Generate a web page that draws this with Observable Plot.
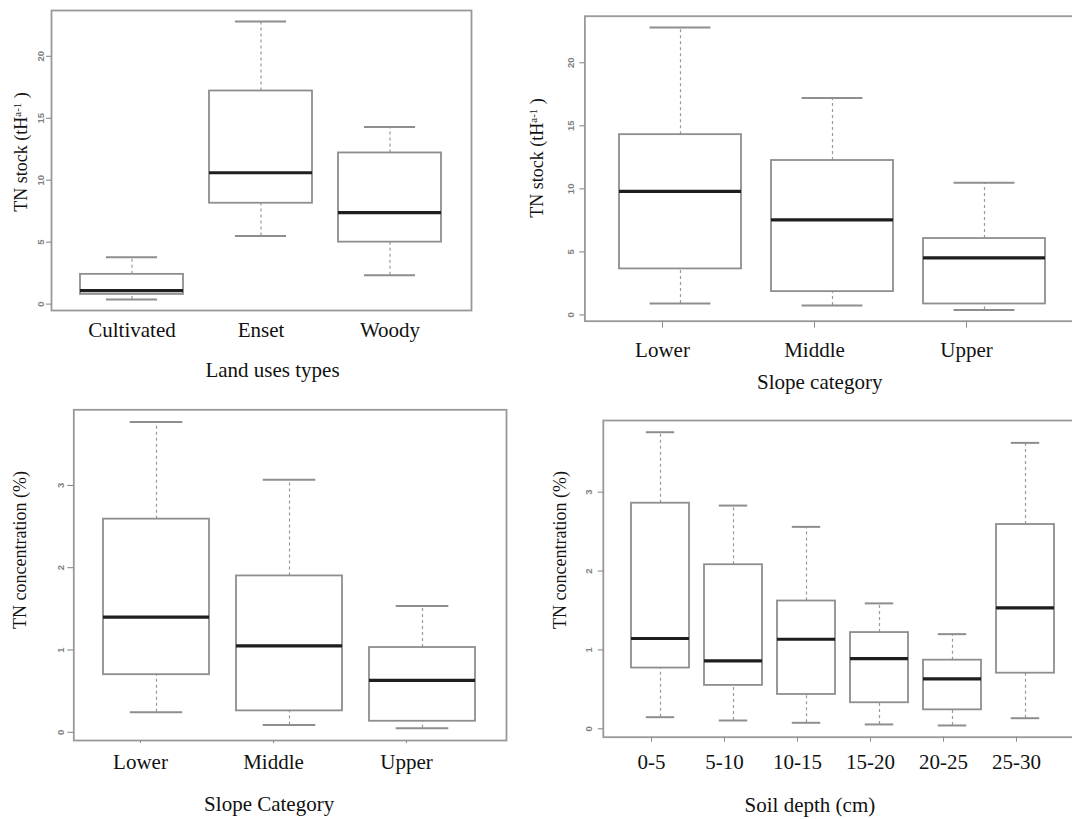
<!DOCTYPE html>
<html><head><meta charset="utf-8">
<script src="https://cdn.jsdelivr.net/npm/d3@7"></script>
<script src="https://cdn.jsdelivr.net/npm/@observablehq/plot@0.6"></script>
<style>
body{margin:0;background:#fff;}
#wrap{position:relative;width:1072px;height:819px;overflow:hidden;background:#fff;}
.panel{position:absolute;}
.ytitle{position:absolute;font-family:"Liberation Serif","Times New Roman",serif;font-size:18px;color:#111;white-space:nowrap;line-height:1;transform:translate(-50%,-50%) rotate(-90deg);}
.ytitle sup{font-size:0.6em;vertical-align:0.6em;line-height:0;}
</style></head><body><div id="wrap"></div>
<script>
// Panel A: TN stock by land use
const landUses = ["Cultivated", "Enset", "Woody"];
const stockLandLo  = [0.38, 5.5, 2.32];
const stockLandQ1  = [0.78, 8.14, 5.0];
const stockLandMed = [1.08, 10.6, 7.38];
const stockLandQ3  = [2.4, 17.2, 12.2];
const stockLandHi  = [3.78, 22.8, 14.3];

// Panel B: TN stock by slope category
const slopes = ["Lower", "Middle", "Upper"];
const stockSlopeLo  = [0.9, 0.74, 0.4];
const stockSlopeQ1  = [3.65, 1.85, 0.87];
const stockSlopeMed = [9.8, 7.54, 4.52];
const stockSlopeQ3  = [14.3, 12.25, 6.06];
const stockSlopeHi  = [22.8, 17.2, 10.48];

// Panel C: TN concentration by slope category
const concSlopeLo  = [0.243, 0.09, 0.049];
const concSlopeQ1  = [0.70, 0.26, 0.134];
const concSlopeMed = [1.40, 1.05, 0.63];
const concSlopeQ3  = [2.59, 1.90, 1.03];
const concSlopeHi  = [3.77, 3.07, 1.535];

// Panel D: TN concentration by soil depth
const depths = ["0-5", "5-10", "10-15", "15-20", "20-25", "25-30"];
const concDepthLo  = [0.147, 0.105, 0.076, 0.055, 0.042, 0.134];
const concDepthQ1  = [0.77, 0.55, 0.435, 0.33, 0.24, 0.705];
const concDepthMed = [1.145, 0.86, 1.135, 0.89, 0.634, 1.534];
const concDepthQ3  = [2.86, 2.08, 1.62, 1.22, 0.87, 2.59];
const concDepthHi  = [3.76, 2.83, 2.56, 1.59, 1.20, 3.625];

const stockTicks = [0, 5, 10, 15, 20];
const concTicks = [0, 1, 2, 3];

const wrap = document.getElementById("wrap");
const SERIF = "Liberation Serif, Times New Roman, serif";
const GREY = "#8e8e8e";

function panel(o) {
  const n = o.cats.length;
  const po = (0.08 * n + 0.2) / 2;
  const R = o.width - o.mL - o.mR;
  const step = R / (n * 1.08);
  const bw = step * 0.8;
  const data = o.cats.map((c, i) => ({cat: c, lo: o.lo[i], q1: o.q1[i], med: o.med[i], q3: o.q3[i], hi: o.hi[i]}));
  const ymin = d3.min(o.lo), ymax = d3.max(o.hi);
  const pad = 0.04 * (ymax - ymin);
  const chart = Plot.plot({
    width: o.width, height: o.height,
    marginLeft: o.mL, marginRight: o.mR, marginTop: o.mT, marginBottom: o.mB,
    style: {background: "transparent", overflow: "visible"},
    x: {type: "band", domain: o.cats, paddingInner: 0.2, paddingOuter: po},
    y: {domain: [ymin - pad, ymax + pad]},
    marks: [
      Plot.ruleX(data, {x: "cat", y1: "q3", y2: "hi", stroke: "#999", strokeWidth: 1.2, strokeDasharray: "3,3"}),
      Plot.ruleX(data, {x: "cat", y1: "lo", y2: "q1", stroke: "#999", strokeWidth: 1.2, strokeDasharray: "3,3"}),
      Plot.tickY(data, {x: "cat", y: "hi", insetLeft: bw / 4, insetRight: bw / 4, stroke: GREY, strokeWidth: 2}),
      Plot.tickY(data, {x: "cat", y: "lo", insetLeft: bw / 4, insetRight: bw / 4, stroke: GREY, strokeWidth: 2}),
      Plot.barY(data, {x: "cat", y1: "q1", y2: "q3", fill: "white", stroke: GREY, strokeWidth: 1.8}),
      Plot.tickY(data, {x: "cat", y: "med", stroke: "#1e1e1e", strokeWidth: 3.2}),
      Plot.frame({stroke: "#999", strokeWidth: 1.8}),
      Plot.axisY({ticks: o.yTicks, tickFormat: d => String(d), tickSize: o.yTickSize, tickPadding: o.yTickPadding, tickRotate: -90,
        fontSize: 9.5, fontWeight: "bold", fontFamily: "Liberation Sans, Arial, sans-serif",
        color: "#808080", label: null}),
      Plot.axisX({tickSize: o.xTickSize, tickPadding: o.xTickPadding, stroke: GREY, fill: "#111", dx: o.xdx,
        fontSize: 21, fontFamily: SERIF, label: null}),
      Plot.text([o.title], {text: d => d, frameAnchor: "bottom", dx: o.titleDx, dy: o.titleDy,
        fontSize: 21, fontFamily: SERIF, fill: "#111", lineAnchor: "middle"})
    ]
  });
  chart.classList.add("panel");
  chart.style.left = o.left + "px";
  chart.style.top = o.top + "px";
  wrap.appendChild(chart);
  const t = document.createElement("div");
  t.className = "ytitle";
  t.innerHTML = o.ytitle;
  t.style.left = o.ytx + "px";
  t.style.top = o.yty + "px";
  wrap.appendChild(t);
}

panel({left: 0, top: 0, width: 480, height: 400, mL: 51, mR: 9, mT: 10, mB: 90,
  cats: landUses, lo: stockLandLo, q1: stockLandQ1, med: stockLandMed, q3: stockLandQ3, hi: stockLandHi,
  yTicks: stockTicks, yTickSize: 5, yTickPadding: 3, xTickSize: 0, xTickPadding: 12, xdx: 0,
  title: "Land uses types", titleDx: 11, titleDy: 60,
  ytitle: "TN stock (tH<sup>a-1</sup> )", ytx: 21, yty: 152});

panel({left: 520, top: 0, width: 570, height: 400, mL: 64.4, mR: 10, mT: 15.7, mB: 79.3,
  cats: slopes, lo: stockSlopeLo, q1: stockSlopeQ1, med: stockSlopeMed, q3: stockSlopeQ3, hi: stockSlopeHi,
  yTicks: stockTicks, yTickSize: 5, yTickPadding: 6, xTickSize: 7, xTickPadding: 14, xdx: -18,
  title: "Slope category", titleDx: -13, titleDy: 61,
  ytitle: "TN stock (tH<sup>a-1</sup> )", ytx: 537, yty: 158});

panel({left: 0, top: 400, width: 520, height: 419, mL: 73.3, mR: 14, mT: 9.3, mB: 79,
  cats: slopes, lo: concSlopeLo, q1: concSlopeQ1, med: concSlopeMed, q3: concSlopeQ3, hi: concSlopeHi,
  yTicks: concTicks, yTickSize: 6, yTickPadding: 4, xTickSize: 3, xTickPadding: 11, xdx: -16,
  title: "Slope Category", titleDx: -21, titleDy: 64,
  ytitle: "TN concentration (%)", ytx: 20, yty: 550});

panel({left: 540, top: 400, width: 552, height: 419, mL: 62.8, mR: 10, mT: 20, mB: 82.3,
  cats: depths, lo: concDepthLo, q1: concDepthQ1, med: concDepthMed, q3: concDepthQ3, hi: concDepthHi,
  yTicks: concTicks, yTickSize: 5, yTickPadding: 6, xTickSize: 5, xTickPadding: 12, xdx: -9,
  title: "Soil depth (cm)", titleDx: -33, titleDy: 68,
  ytitle: "TN concentration (%)", ytx: 560, yty: 550});
</script></body></html>
